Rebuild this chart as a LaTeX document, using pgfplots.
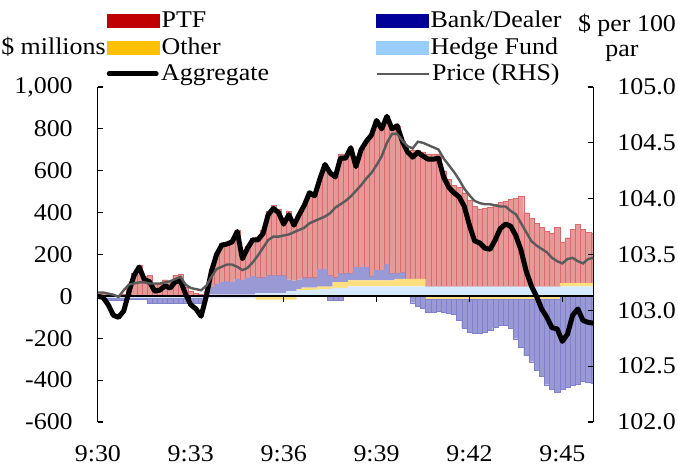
\documentclass[border=0pt]{standalone}
\usepackage{fontspec}
\setmainfont{Liberation Serif}[FakeStretch=1.08]
\usepackage{pgfplots}
\usepackage{pgfplotstable}
\pgfplotsset{compat=1.18}
\definecolor{ptf}{HTML}{C00000}
\definecolor{other}{HTML}{FFC000}
\definecolor{bd}{HTML}{000099}
\definecolor{hf}{HTML}{99CCFF}
\definecolor{pricegray}{HTML}{5A5A5A}

\pgfplotstableread{
k hfp op bp ptf hfn on bn agg price
0 0 0 0 5 0 0 0 0 103.16
1 0 0 0 15 -8 0 0 -5 103.16
2 0 0 0 10 -8 0 -12 -40 103.15
3 0 0 0 5 -8 0 -12 -90 103.14
4 0 0 0 5 -8 0 -12 -100 103.12
5 0 0 0 10 -8 0 -12 -70 103.18
6 0 0 0 35 -8 0 -5 20 103.23
7 0 0 0 110 -8 0 -5 100 103.24
8 0 0 0 150 -8 0 -5 140 103.25
9 0 0 0 95 -8 0 -5 80 103.25
10 0 0 0 100 -8 0 -25 70 103.24
11 0 0 0 60 -8 0 -25 25 103.24
12 0 0 0 60 -8 0 -25 30 103.24
13 0 0 0 80 -8 0 -25 50 103.25
14 0 0 0 75 -8 0 -25 40 103.26
15 0 0 0 100 -8 0 -25 70 103.28
16 0 0 0 105 -8 0 -25 75 103.30
17 0 0 0 45 -8 0 -25 10 103.23
18 0 0 0 25 -8 0 -25 -40 103.20
19 0 0 0 15 -8 0 -25 -60 103.19
20 0 0 0 10 -8 0 -25 -95 103.18
21 8 0 10 7 -8 0 0 0 103.22
22 8 0 35 85 -8 0 0 120 103.30
23 8 0 50 150 -8 0 0 200 103.37
24 8 0 60 185 -8 0 0 245 103.39
25 8 0 65 185 -8 0 0 250 103.41
26 8 0 60 200 -8 0 0 260 103.41
27 8 0 75 235 -8 0 0 310 103.39
28 8 0 70 110 -8 0 0 180 103.36
29 8 0 80 150 -8 0 0 230 103.38
30 8 0 90 180 -8 0 0 270 103.43
31 15 0 75 195 0 -15 0 270 103.49
32 15 0 75 225 0 -15 0 300 103.56
33 15 0 85 305 0 -15 0 390 103.63
34 15 0 85 335 0 -15 0 420 103.66
35 15 0 85 315 0 -15 0 400 103.66
36 15 0 85 260 0 -15 0 345 103.67
37 25 0 55 325 0 -15 0 390 103.68
38 25 0 50 280 0 -15 0 340 103.70
39 30 5 45 310 0 0 0 390 103.72
40 30 12 48 345 0 0 0 435 103.74
41 30 12 48 405 0 0 0 495 103.78
42 30 12 48 390 0 0 0 480 103.80
43 35 12 83 430 0 0 0 560 103.82
44 35 12 83 500 0 0 0 630 103.84
45 35 12 53 490 0 0 -20 590 103.87
46 40 28 22 500 0 0 -20 570 103.92
47 40 28 42 570 0 0 -20 660 103.95
48 40 28 42 570 0 0 0 660 103.98
49 48 28 34 600 0 0 0 710 104.02
50 48 28 64 480 0 0 0 620 104.07
51 48 28 64 560 0 0 0 700 104.12
52 48 28 64 600 0 0 0 740 104.18
53 48 28 19 675 0 0 0 770 104.23
54 48 28 49 715 0 0 0 840 104.30
55 48 28 49 675 0 0 0 800 104.38
56 48 28 79 705 0 0 0 860 104.50
57 48 28 34 690 0 0 0 800 104.58
58 48 35 27 705 0 0 0 815 104.58
59 48 35 32 625 0 0 0 740 104.52
60 48 35 0 607 0 0 0 690 104.47
61 48 35 0 617 0 0 -30 665 104.45
62 48 35 0 617 0 0 -45 688 104.51
63 48 35 0 607 0 0 -55 670 104.50
64 48 0 0 632 0 -12 -65 655 104.48
65 48 0 0 632 0 -12 -65 655 104.46
66 48 0 0 632 0 -12 -60 660 104.44
67 48 0 0 552 0 -12 -65 570 104.36
68 48 0 0 512 0 -12 -70 520 104.30
69 48 0 0 482 0 -12 -75 495 104.24
70 48 0 0 472 0 -12 -100 475 104.17
71 48 0 0 447 0 -12 -140 430 104.09
72 48 0 0 412 0 -12 -160 340 104.03
73 48 0 0 382 0 -12 -165 265 103.98
74 48 0 0 367 0 -12 -165 255 103.96
75 48 0 0 372 0 -12 -160 230 103.95
76 48 0 0 377 0 -12 -150 225 103.95
77 48 0 0 392 0 -12 -135 270 103.94
78 48 0 0 402 0 -12 -125 325 103.93
79 48 0 0 407 0 -12 -125 345 103.93
80 48 0 0 417 0 -12 -140 335 103.89
81 48 0 0 422 0 -12 -190 290 103.86
82 48 0 0 432 0 -12 -230 220 103.78
83 48 0 0 352 0 -12 -270 120 103.70
84 48 0 0 327 0 -12 -300 50 103.62
85 48 0 0 302 0 -12 -340 0 103.58
86 48 0 0 282 0 -12 -370 -60 103.55
87 48 0 0 262 0 -12 -410 -100 103.52
88 48 0 0 252 0 -12 -430 -150 103.47
89 48 0 0 282 0 -12 -445 -155 103.44
90 48 15 0 197 0 0 -445 -215 103.42
91 48 15 0 217 0 0 -435 -180 103.46
92 48 15 0 257 0 0 -425 -90 103.47
93 48 15 0 282 0 0 -420 -60 103.44
94 48 15 0 257 0 0 -405 -115 103.42
95 48 15 0 242 0 0 -410 -124 103.46
96 48 15 0 237 0 0 -415 -128 103.47
}\datatable

\begin{document}
\fontsize{24}{26}\selectfont
\begin{tikzpicture}[x=1pt,y=1pt,font=\fontsize{24}{26}\selectfont]
\useasboundingbox (0,0) rectangle (678,466);
\pgfplotsset{base/.style={scale only axis, width=495.4pt, height=335pt,
  at={(97.9pt,44pt)}, anchor=south west, xmin=0, xmax=96},
  leg/.style 2 args={base, hide axis, ymin=0, ymax=1,
  legend style={at={(axis description cs:#1,#2)}, anchor=west,
    draw=none, fill=none, inner sep=0pt,
    nodes={inner xsep=2.5pt, inner ysep=0pt}}}}

% positive stack
\begin{axis}[base, hide axis, ybar stacked, bar width=1, ymin=-600, ymax=1000]
\addplot[fill=hf!40, draw=none] table[x=k,y=hfp]{\datatable};
\addplot[fill=other!50, draw=none] table[x=k,y=op]{\datatable};
\addplot[fill=bd!40, draw=none] table[x=k,y=bp]{\datatable};
\addplot[fill=ptf!40, draw=ptf!58, line width=0.2pt] table[x=k,y=ptf]{\datatable};
\end{axis}

% negative stack
\begin{axis}[base, hide axis, ybar stacked, bar width=1, ymin=-600, ymax=1000]
\addplot[fill=hf!40, draw=none] table[x=k,y=hfn]{\datatable};
\addplot[fill=other!50, draw=none] table[x=k,y=on]{\datatable};
\addplot[fill=bd!40, draw=bd!50, line width=0.2pt] table[x=k,y=bn]{\datatable};
\end{axis}

% left axis + aggregate
\begin{axis}[base, ymin=-600, ymax=1000,
  axis y line*=left, axis x line*=bottom,
  x axis line style={draw=none},
  xtick={0,18,36,54,72,90},
  xticklabels={9:30,9:33,9:36,9:39,9:42,9:45},
  xtick style={draw=none},
  xticklabel style={yshift=-15pt},
  ytick={-600,-400,...,1000},
  yticklabel style={xshift=-17pt},
  tick align=inside, major tick length=5pt,
  ytick style={line width=1.2pt, black},
  y axis line style={line width=1.2pt},
  extra y ticks={0}, extra y tick labels={},
  extra y tick style={grid=major, major grid style={black, line width=2pt}, major tick length=0pt},
  /pgf/number format/1000 sep={,},
  /pgf/number format/assume math mode=true]
\pgfplotsinvokeforeach{18,36,54,72,90}{\draw[line width=1.2pt] (axis cs:#1,0) -- ++(0pt,-6pt);}
\addplot[black, line width=5pt, line join=round, line cap=round] table[x=k,y=agg]{\datatable};
\end{axis}

% right axis + price
\begin{axis}[base, ymin=102, ymax=105,
  axis y line*=right, axis x line=none,
  ytick={102,102.5,103,103.5,104,104.5,105},
  tick align=inside, major tick length=5pt,
  ytick style={line width=1.2pt, black},
  y axis line style={line width=1.2pt},
  yticklabel style={xshift=16pt},
  /pgf/number format/fixed, /pgf/number format/fixed zerofill,
  /pgf/number format/precision=1,
  /pgf/number format/assume math mode=true]
\addplot[pricegray, line width=2.4pt] table[x=k,y=price]{\datatable};
\end{axis}

% legend entries
\begin{axis}[leg={0.0174}{1.197}]
\addlegendimage{legend image code/.code={\fill[ptf] (0pt,-6.5pt) rectangle (52pt,6.5pt);}}
\addlegendentry{PTF}
\end{axis}
\begin{axis}[leg={0.0174}{1.116}]
\addlegendimage{legend image code/.code={\fill[other] (0pt,-6.5pt) rectangle (52pt,6.5pt);}}
\addlegendentry{Other}
\end{axis}
\begin{axis}[leg={0.0174}{1.039}]
\addlegendimage{legend image code/.code={\draw[black, line width=5pt, line cap=round] (2.5pt,0pt) -- (49.5pt,0pt);}}
\addlegendentry{Aggregate}
\end{axis}
\begin{axis}[leg={0.5604}{1.197}]
\addlegendimage{legend image code/.code={\fill[bd] (0pt,-6.5pt) rectangle (52pt,6.5pt);}}
\addlegendentry{Bank/Dealer}
\end{axis}
\begin{axis}[leg={0.5604}{1.116}]
\addlegendimage{legend image code/.code={\fill[hf] (0pt,-6.5pt) rectangle (52pt,6.5pt);}}
\addlegendentry{Hedge Fund}
\end{axis}
\begin{axis}[leg={0.5604}{1.039}]
\addlegendimage{legend image code/.code={\draw[pricegray, line width=2pt] (0pt,0pt) -- (52pt,0pt);}}
\addlegendentry{Price (RHS)}
\end{axis}

\node at (53.5,419) {\$ millions};
\node at (627,441) {\$ per 100};
\node at (622,413) {par};
\end{tikzpicture}
\end{document}
